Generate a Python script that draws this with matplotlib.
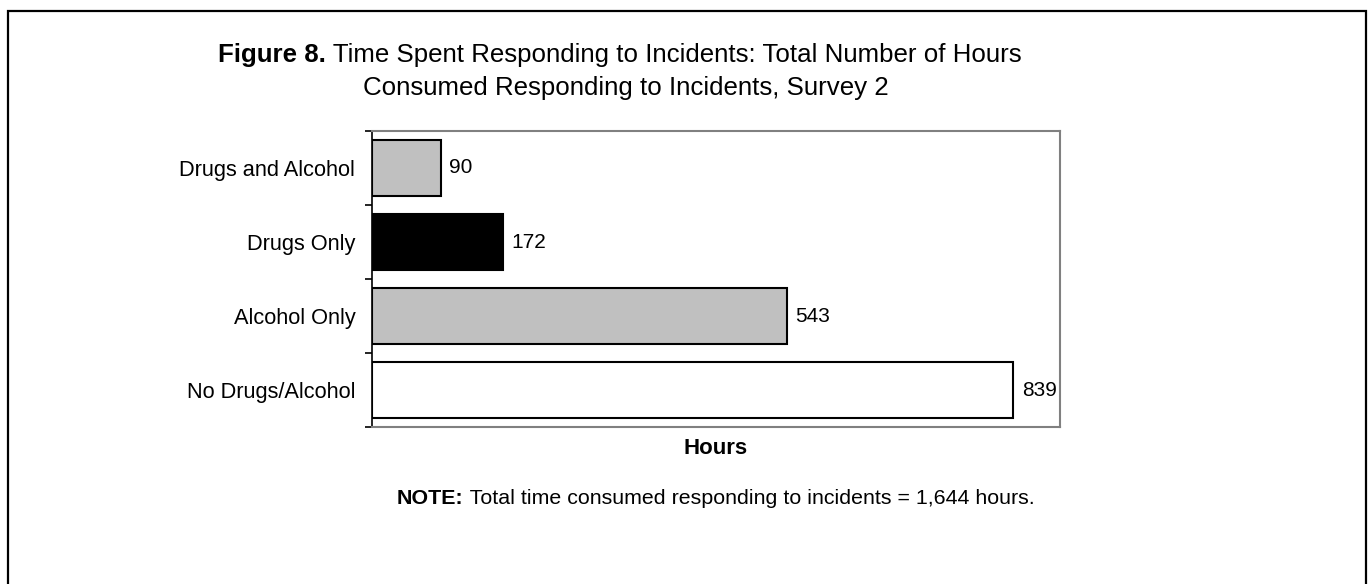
import matplotlib
matplotlib.use('Agg')
import matplotlib.pyplot as plt
from matplotlib.patches import Rectangle

plt.rcParams['font.family'] = ['Liberation Sans', 'DejaVu Sans']

categories = ['Drugs and Alcohol', 'Drugs Only', 'Alcohol Only', 'No Drugs/Alcohol']
hours = [90, 172, 543, 839]
bar_colors = ['#C0C0C0', '#000000', '#C0C0C0', '#FFFFFF']

fig = plt.figure(figsize=(13.69, 5.84), dpi=100)
ax = fig.add_axes([0.2717, 0.2688, 0.5026, 0.5069])

ypos = list(range(len(categories)))
ax.barh(ypos, hours, height=0.76, color=bar_colors, edgecolor='black', linewidth=1.5)
for y, v in zip(ypos, hours):
    ax.annotate(str(v), (v, y), xytext=(6, 0), textcoords='offset points',
                va='center', ha='left', fontsize=15)

ax.set_xlim(0, 900)
ax.set_ylim(3.5, -0.5)
ax.set_yticks(ypos)
ax.set_yticklabels(categories, fontsize=15.7)
ax.tick_params(axis='y', length=0, pad=12)
# boundary ticks on the left spine
ax.set_yticks([-0.5, 0.5, 1.5, 2.5, 3.5], minor=True)
ax.tick_params(axis='y', which='minor', length=5, width=1.2, color='black', direction='out')
ax.set_xticks([])
ax.set_xlabel('Hours', fontsize=16, fontweight='bold', labelpad=8)

for side in ['top', 'right', 'bottom']:
    ax.spines[side].set_color('#808080')
    ax.spines[side].set_linewidth(1.5)
ax.spines['left'].set_color('black')
ax.spines['left'].set_linewidth(1.2)

# outer frame
fig.patches.append(Rectangle((0.0055, -0.1), 0.9923, 1.081, transform=fig.transFigure,
                             fill=False, edgecolor='black', linewidth=1.6))

renderer = fig.canvas.get_renderer()

def bold_then_plain(x, y, bold, plain, size):
    t = fig.text(x, y, bold, fontsize=size, fontweight='bold', ha='left', va='center')
    bb = t.get_window_extent(renderer=renderer)
    x2 = fig.transFigure.inverted().transform((bb.x1, 0))[0]
    fig.text(x2, y, ' ' + plain, fontsize=size, ha='left', va='center')

bold_then_plain(218 / 1369, 1 - 55 / 584, 'Figure 8.',
                'Time Spent Responding to Incidents: Total Number of Hours', 18.6)
fig.text(626 / 1369, 1 - 88 / 584, 'Consumed Responding to Incidents, Survey 2',
         fontsize=18.6, ha='center', va='center')

bold_then_plain(397 / 1369, 1 - 499 / 584, 'NOTE:',
                'Total time consumed responding to incidents = 1,644 hours.', 15.4)

fig.savefig('out.png', dpi=100)
